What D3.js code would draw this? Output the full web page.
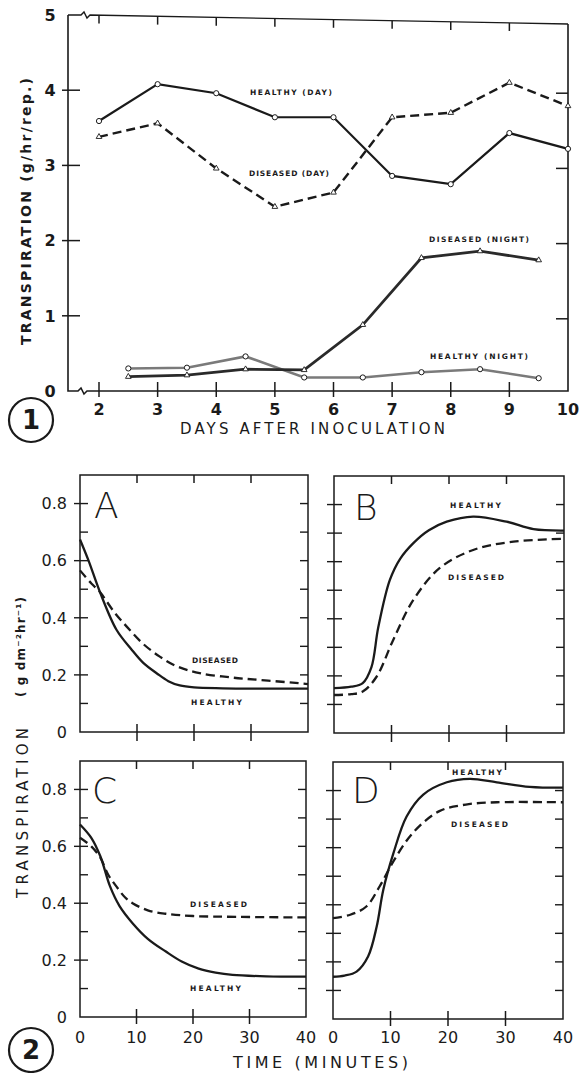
<!DOCTYPE html>
<html><head><meta charset="utf-8">
<script src="https://cdn.jsdelivr.net/npm/d3@7/dist/d3.min.js"></script>
<style>
body{margin:0;background:#fff;}
svg{display:block;}
text{font-family:"DejaVu Sans",sans-serif;fill:#1a1a1a;}
</style></head>
<body>
<svg id="c" width="582" height="1073"></svg>
<script>
// ---------- Figure 1 data ----------
const days = [2,3,4,5,6,7,8,9,10];
const healthyDay  = [3.59,4.08,3.96,3.64,3.64,2.86,2.75,3.43,3.22];
const diseasedDay = [3.38,3.56,2.96,2.45,2.64,3.64,3.70,4.10,3.79];
const nightDays = [2.5,3.5,4.5,5.5,6.5,7.5,8.5,9.5];
const healthyNight  = [0.30,0.31,0.46,0.18,0.18,0.25,0.29,0.17];
const diseasedNight = [0.19,0.21,0.29,0.28,0.88,1.77,1.86,1.74];
const fig1YTicks = [0,1,2,3,4,5];
const fig1XTicks = [2,3,4,5,6,7,8,9,10];

// ---------- Figure 2 data (minutes, g dm-2 hr-1) ----------
const aHealthyT = [0,1.5,3.5,6.4,9,11.1,13.5,15.5,17.5,20,25,32,40];
const aHealthyV = [0.674,0.60,0.49,0.358,0.29,0.242,0.205,0.178,0.163,0.156,0.153,0.152,0.152];
const aDiseasedT = [0,2,3.5,6,8.2,11,14,17,21,27,33,40];
const aDiseasedV = [0.566,0.52,0.49,0.42,0.369,0.31,0.264,0.23,0.206,0.19,0.18,0.168];

const bHealthyT = [0,3,5,6.5,7.7,9.7,11.5,13.8,16.5,19.6,24.2,30,34.7,40];
const bHealthyV = [0.157,0.162,0.175,0.23,0.37,0.535,0.61,0.665,0.71,0.74,0.758,0.74,0.714,0.709];
const bDiseasedT = [0,3,5,7.4,10.3,13.8,18.4,24.2,31.2,40];
const bDiseasedV = [0.133,0.136,0.145,0.197,0.326,0.466,0.578,0.641,0.67,0.68];

const cHealthyT = [0,2,3.6,5.3,7,9.3,12,15.2,18,21,24,27,33,40];
const cHealthyV = [0.677,0.63,0.565,0.46,0.39,0.33,0.275,0.23,0.195,0.17,0.156,0.148,0.143,0.142];
const cDiseasedT = [0,2,3.6,5,6.4,8,9.3,12,15.2,20,28,40];
const cDiseasedV = [0.63,0.60,0.56,0.50,0.46,0.42,0.40,0.375,0.363,0.355,0.352,0.35];

const dHealthyT = [0,2,4.1,6.1,7.6,8.75,10.5,12.8,15.7,19.8,23.8,28.5,34.2,40];
const dHealthyV = [0.148,0.152,0.166,0.219,0.324,0.453,0.58,0.709,0.786,0.829,0.841,0.829,0.813,0.81];
const dDiseasedT = [0,3,5.8,8.1,10.5,13.9,18.5,23.1,28.5,40];
const dDiseasedV = [0.353,0.365,0.394,0.464,0.552,0.652,0.728,0.751,0.759,0.759];

const panelYTicks = [0.1,0.2,0.3,0.4,0.5,0.6,0.7,0.8];
const panelYLabels = [0,0.2,0.4,0.6,0.8];
const panelXTicks = [10,20,30];
const panelXLabels = [0,10,20,30,40];

const ink = "#1a1a1a";
const svg = d3.select("#c");

// ================= FIGURE 1 =================
const x1 = d3.scaleLinear().domain([2,10]).range([99,568]);
const y1 = d3.scaleLinear().domain([0,5]).range([391,15]);
const L = 68, R = x1(10), B = y1(0), T = y1(5);
const g1 = svg.append("g");

g1.append("path").attr("fill","none").attr("stroke",ink).attr("stroke-width",1.6)
  .attr("d",`M${L},${T} L${L},${B} L78,${B} l3,-3 l3,6 l3,-3 L${R},${B} L${R},${T+9}`);
g1.append("path").attr("fill","none").attr("stroke",ink).attr("stroke-width",1.4)
  .attr("d",`M${L},${T} L81,${T} l3,-3 l3,6 l3,-3 L${R},${T+9}`);

fig1XTicks.filter(d=>d<10).forEach(d=>{
  const xx = x1(d);
  g1.append("line").attr("x1",xx).attr("x2",xx).attr("y1",B-9).attr("y2",B+6).attr("stroke",ink).attr("stroke-width",1.5);
  const ty = T + (xx-L)/(R-L)*9;
  g1.append("line").attr("x1",xx).attr("x2",xx).attr("y1",ty).attr("y2",ty+8).attr("stroke",ink).attr("stroke-width",1.5);
});
fig1YTicks.filter(d=>d>0&&d<5).forEach(d=>{
  const yy = y1(d);
  g1.append("line").attr("x1",L-6).attr("x2",L+12).attr("y1",yy).attr("y2",yy).attr("stroke",ink).attr("stroke-width",1.5);
  g1.append("line").attr("x1",R-12).attr("x2",R).attr("y1",yy+3).attr("y2",yy+3).attr("stroke",ink).attr("stroke-width",1.5);
});
fig1YTicks.forEach(d=>{
  g1.append("text").attr("x",50).attr("y",y1(d)).attr("dy","0.36em").attr("text-anchor","middle")
    .attr("font-size",16).attr("font-weight","bold").text(d);
});
fig1XTicks.forEach(d=>{
  g1.append("text").attr("x",x1(d)).attr("y",415).attr("text-anchor","middle")
    .attr("font-size",16).attr("font-weight","bold").text(d);
});
g1.append("text").attr("x",180).attr("y",434).attr("font-size",15).attr("textLength",265)
  .attr("lengthAdjust","spacing").text("DAYS  AFTER  INOCULATION");
g1.append("text").attr("transform","translate(31,345) rotate(-90)").attr("font-size",14)
  .attr("font-weight","bold").attr("textLength",267).attr("lengthAdjust","spacing")
  .text("TRANSPIRATION  (g/hr/rep.)");

const line1 = (xs,ys)=> d3.line().x((d,i)=>x1(xs[i])).y(d=>y1(d))(ys);
g1.append("path").attr("d",line1(nightDays,healthyNight)).attr("fill","none").attr("stroke","#7a7a7a").attr("stroke-width",2.6);
g1.append("path").attr("d",line1(nightDays,diseasedNight)).attr("fill","none").attr("stroke","#2a2a2a").attr("stroke-width",2.8);
g1.append("path").attr("d",line1(days,healthyDay)).attr("fill","none").attr("stroke",ink).attr("stroke-width",2.2);
g1.append("path").attr("d",line1(days,diseasedDay)).attr("fill","none").attr("stroke",ink).attr("stroke-width",2.4).attr("stroke-dasharray","9,5");

const tri = d3.symbol().type(d3.symbolTriangle).size(14);
function circles(xs,ys){
  g1.selectAll(null).data(ys).enter().append("circle").attr("cx",(d,i)=>x1(xs[i])).attr("cy",d=>y1(d))
    .attr("r",2.6).attr("fill","#fff").attr("stroke",ink).attr("stroke-width",1);
}
function triangles(xs,ys){
  g1.selectAll(null).data(ys).enter().append("path").attr("d",tri)
    .attr("transform",(d,i)=>`translate(${x1(xs[i])},${y1(d)})`)
    .attr("fill","#fff").attr("stroke",ink).attr("stroke-width",0.9);
}
circles(days,healthyDay); triangles(days,diseasedDay);
circles(nightDays,healthyNight); triangles(nightDays,diseasedNight);

function smallLabel(g,x,y,w,t){
  g.append("text").attr("x",x).attr("y",y).attr("dy","0.35em").attr("font-size",7.5).attr("font-weight","bold")
    .attr("textLength",w).attr("lengthAdjust","spacing").text(t);
}
smallLabel(g1,250,92,82,"HEALTHY  (DAY)");
smallLabel(g1,249,173,80,"DISEASED  (DAY)");
smallLabel(g1,429,239,100,"DISEASED  (NIGHT)");
smallLabel(g1,430,356,98,"HEALTHY  (NIGHT)");

function circledNum(cx,cy,n){
  svg.append("circle").attr("cx",cx).attr("cy",cy).attr("r",22).attr("fill","none").attr("stroke",ink).attr("stroke-width",2.2);
  svg.append("text").attr("x",cx).attr("y",cy).attr("dy","0.36em").attr("text-anchor","middle")
    .attr("font-size",26).attr("font-weight","bold").text(n);
}
circledNum(31,420,"1");

// ================= FIGURE 2 =================
const panels = [
  {x0:80,x1:308,y0:475,y1:732,letter:"A",lx:94,ly:518,left:true,bottom:false,
   h:[aHealthyT,aHealthyV],d:[aDiseasedT,aDiseasedV],
   labels:[[192,660,46,"DISEASED"],[191,702,51,"HEALTHY"]]},
  {x0:334,x1:564,y0:476,y1:733,letter:"B",lx:354,ly:520,left:false,bottom:false,
   h:[bHealthyT,bHealthyV],d:[bDiseasedT,bDiseasedV],
   labels:[[450,505,51,"HEALTHY"],[448,577,56,"DISEASED"]]},
  {x0:80,x1:306,y0:761,y1:1017,letter:"C",lx:92,ly:803,left:true,bottom:true,
   h:[cHealthyT,cHealthyV],d:[cDiseasedT,cDiseasedV],
   labels:[[190,904,57,"DISEASED"],[190,988,51,"HEALTHY"]]},
  {x0:333,x1:563,y0:762,y1:1019,letter:"D",lx:352,ly:803,left:false,bottom:true,
   h:[dHealthyT,dHealthyV],d:[dDiseasedT,dDiseasedV],
   labels:[[452,772,50,"HEALTHY"],[451,824,57,"DISEASED"]]}
];

panels.forEach(p=>{
  const g = svg.append("g");
  const xs = d3.scaleLinear().domain([0,40]).range([p.x0,p.x1]);
  const ys = d3.scaleLinear().domain([0,0.9]).range([p.y1,p.y0]);
  g.append("rect").attr("x",p.x0).attr("y",p.y0).attr("width",p.x1-p.x0).attr("height",p.y1-p.y0)
    .attr("fill","none").attr("stroke",ink).attr("stroke-width",1.5);
  panelXTicks.forEach(t=>{
    const xx = xs(t);
    g.append("line").attr("x1",xx).attr("x2",xx).attr("y1",p.y0).attr("y2",p.y0+8).attr("stroke",ink).attr("stroke-width",1.5);
    g.append("line").attr("x1",xx).attr("x2",xx).attr("y1",p.y1-8).attr("y2",p.y1+(p.bottom?7:9)).attr("stroke",ink).attr("stroke-width",1.5);
  });
  panelYTicks.forEach(v=>{
    const yy = ys(v);
    const major = Math.round(v*10) % 2 === 0;
    let out = p.left ? (major ? 6 : 0) : 7;
    g.append("line").attr("x1",p.x0-out).attr("x2",p.x0+8).attr("y1",yy).attr("y2",yy).attr("stroke",ink).attr("stroke-width",1.4);
    g.append("line").attr("x1",p.x1-8).attr("x2",p.x1).attr("y1",yy).attr("y2",yy).attr("stroke",ink).attr("stroke-width",1.4);
  });
  if(p.left){
    panelYLabels.forEach(v=>{
      g.append("text").attr("x",67).attr("y",ys(v)).attr("dy","0.36em").attr("text-anchor","end")
        .attr("font-size",16).text(v===0?"0":d3.format(".1f")(v));
    });
  }
  if(p.bottom){
    panelXLabels.forEach(t=>{
      g.append("text").attr("x",xs(t)).attr("y",1043).attr("text-anchor","middle")
        .attr("font-size",16).text(t);
    });
  }
  const ln = (T,V)=> d3.line().curve(d3.curveCatmullRom.alpha(0.5)).x((d,i)=>xs(T[i])).y(d=>ys(d))(V);
  g.append("path").attr("d",ln(p.d[0],p.d[1])).attr("fill","none").attr("stroke",ink).attr("stroke-width",2.3).attr("stroke-dasharray","9,5");
  g.append("path").attr("d",ln(p.h[0],p.h[1])).attr("fill","none").attr("stroke",ink).attr("stroke-width",2.3);
  g.append("text").attr("x",p.lx).attr("y",p.ly).attr("font-size",36).attr("font-family","Lato, 'DejaVu Sans', sans-serif")
    .attr("font-weight",300).text(p.letter);
  p.labels.forEach(l=>smallLabel(g,l[0],l[1],l[2],l[3]));
});

svg.append("text").attr("x",233).attr("y",1068).attr("font-size",16).attr("textLength",175)
  .attr("lengthAdjust","spacing").text("TIME (MINUTES)");
svg.append("text").attr("transform","translate(28,898) rotate(-90)").attr("font-size",15)
  .attr("textLength",170).attr("lengthAdjust","spacing").text("TRANSPIRATION");
svg.append("text").attr("transform","translate(25,697) rotate(-90)").attr("font-size",12).attr("font-weight","bold")
  .attr("textLength",100).attr("lengthAdjust","spacing").text("( g  dm⁻²hr⁻¹)");
circledNum(31,1050,"2");
</script>
</body></html>
